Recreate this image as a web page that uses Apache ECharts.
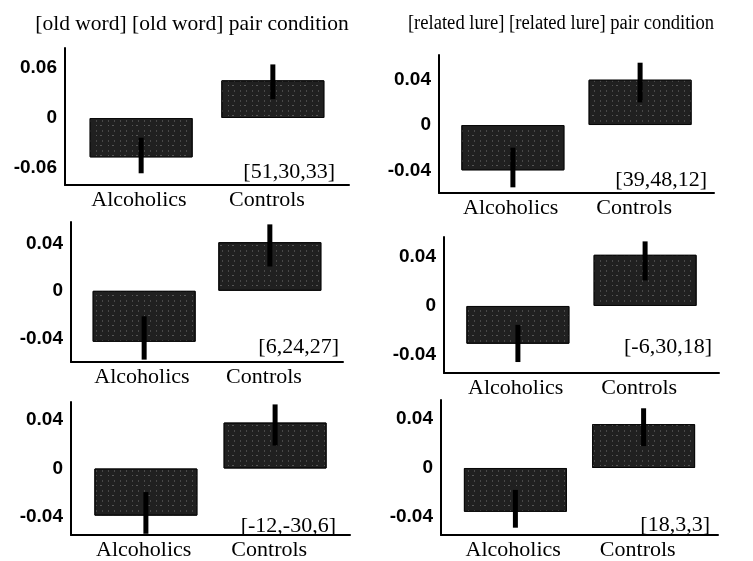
<!DOCTYPE html>
<html>
<head>
<meta charset="utf-8">
<script src="https://cdn.jsdelivr.net/npm/echarts@6/dist/echarts.min.js"></script>
<style>
    html, body { margin: 0; padding: 0; background: #fff; }
    #main { width: 753px; height: 561px; }
</style>
</head>
<body>
<div id="main"></div>
<script>
// panels go row by row: top-left, top-right, middle-left, middle-right, bottom-left, bottom-right
const categories = ['Alcoholics', 'Controls'];
const columnTitles = ['[old word] [old word] pair condition', '[related lure] [related lure] pair condition'];

const alcoholicsMean = [-0.047, -0.040, -0.043, -0.031, -0.039, -0.036];
const controlsMean = [0.045, 0.040, 0.041, 0.042, 0.038, 0.036];
// end of the one-sided error bar
const alcoholicsErr = [-0.066, -0.055, -0.058, -0.046, -0.054, -0.049];
const controlsErr = [0.064, 0.055, 0.056, 0.053, 0.053, 0.049];

// labelled y ticks are -step, 0, step
const tickStep = [0.06, 0.04, 0.04, 0.04, 0.04, 0.04];
const axisMin = [-0.08, -0.06, -0.06, -0.055, -0.055, -0.055];
const axisMax = [0.0836, 0.0618, 0.058, 0.0566, 0.055, 0.0558];

const notes = ['[51,30,33]', '[39,48,12]', '[6,24,27]', '[-6,30,18]', '[-12,-30,6]', '[18,3,3]'];

// layout of each small plot (px)
const layout = [
    {left: 65, top: 48, width: 284, height: 137, noteX: 335, noteY: 172},
    {left: 439, top: 55, width: 275, height: 138, noteX: 707, noteY: 180},
    {left: 71, top: 222, width: 272, height: 140, noteX: 339, noteY: 347},
    {left: 444, top: 237, width: 275, height: 136, noteX: 712, noteY: 347},
    {left: 71, top: 402, width: 279, height: 136, noteX: 336, noteY: 526},
    {left: 441, top: 400, width: 277, height: 137, noteX: 710, noteY: 525}
];
const titleStyle = [
    {x: 192, y: 24, size: 21.5, scaleX: 1},
    {x: 561, y: 24, size: 20, scaleX: 0.93}
];

const barWidth = 103;
const barGap = '-90%';   // pulls the two bars a little towards each other

const serif = '"Liberation Serif", "Times New Roman", serif';
const sans = '"Liberation Sans", Arial, sans-serif';

let myChart = echarts.init(document.getElementById('main'));

let grids = [], xAxes = [], yAxes = [], series = [], graphics = [];

let barStyle = {
    color: '#202020',
    borderColor: '#0a0a0a',
    borderWidth: 1,
    decal: {
        symbol: 'rect',
        symbolSize: 0.8,
        color: 'rgba(255,255,255,0.3)',
        dashArrayX: [[1, 5], [1, 3, 2, 6]],
        dashArrayY: [2, 3, 1, 4],
        rotation: 0
    }
};

let catFont = {color: '#000', fontFamily: serif, fontSize: 22};

layout.forEach((box, i) => {
    grids.push({left: box.left, top: box.top, width: box.width, height: box.height});

    xAxes.push({
        type: 'category',
        gridIndex: i,
        data: categories,
        axisLine: {onZero: false, lineStyle: {color: '#000', width: 2}},
        axisTick: {show: false},
        axisLabel: {
            margin: 4,
            // the printed labels sit a bit inwards of the band centres
            formatter: v => (v === categories[0] ? '{a|' : '{c|') + v + '}',
            rich: {
                a: Object.assign({padding: [0, 0, 0, 6]}, catFont),
                c: Object.assign({padding: [0, 22, 0, 0]}, catFont)
            }
        }
    });

    let step = tickStep[i];
    yAxes.push({
        type: 'value',
        gridIndex: i,
        min: axisMin[i],
        max: axisMax[i],
        interval: 0.005,
        splitLine: {show: false},
        axisTick: {show: false},
        axisLine: {show: true, lineStyle: {color: '#000', width: 2}},
        axisLabel: {
            color: '#000',
            fontFamily: sans,
            fontWeight: 'bold',
            fontSize: 19,
            margin: 8,
            padding: [4, 0, 0, 0],
            formatter: function (v) {
                if (Math.abs(v) < 1e-6) return '0';
                if (Math.abs(Math.abs(v) - step) < 1e-6) return (v < 0 ? '-' : '') + step;
                return '';
            }
        }
    });

    // Controls first so it takes the left slot of its band, Alcoholics the right slot
    series.push({
        name: 'Controls',
        type: 'bar',
        xAxisIndex: i,
        yAxisIndex: i,
        data: ['-', controlsMean[i]],
        barWidth: barWidth,
        barGap: barGap,
        itemStyle: barStyle
    });
    series.push({
        name: 'Alcoholics',
        type: 'bar',
        xAxisIndex: i,
        yAxisIndex: i,
        data: [alcoholicsMean[i], '-'],
        barWidth: barWidth,
        barGap: barGap,
        itemStyle: barStyle
    });

    // one-sided error bars, drawn from the middle of the bar outwards
    series.push({
        type: 'custom',
        xAxisIndex: i,
        yAxisIndex: i,
        data: [[0, alcoholicsMean[i], alcoholicsErr[i]], [1, controlsMean[i], controlsErr[i]]],
        encode: {x: 0, y: [1, 2]},
        renderItem: function (params, api) {
            let cat = api.value(0);
            let slots = api.barLayout({count: 2, barWidth: barWidth, barGap: barGap});
            let shift = slots[cat === 0 ? 1 : 0].offsetCenter;
            let from = api.coord([cat, api.value(1) * 0.5]);
            let to = api.coord([cat, api.value(2)]);
            return {
                type: 'line',
                shape: {x1: from[0] + shift, y1: from[1], x2: to[0] + shift, y2: to[1]},
                style: {stroke: '#000', lineWidth: 5}
            };
        },
        z: 3
    });

    graphics.push({
        type: 'text',
        x: box.noteX,
        y: box.noteY,
        style: {
            text: notes[i],
            font: '22px ' + serif,
            fill: '#000',
            align: 'right',
            verticalAlign: 'middle'
        }
    });
});

columnTitles.forEach((t, c) => {
    let ts = titleStyle[c];
    graphics.push({
        type: 'text',
        x: ts.x,
        y: ts.y,
        scaleX: ts.scaleX,
        style: {
            text: t,
            font: ts.size + 'px ' + serif,
            fill: '#000',
            align: 'center',
            verticalAlign: 'middle'
        }
    });
});

let option = {
    backgroundColor: '#fff',
    animation: false,
    grid: grids,
    xAxis: xAxes,
    yAxis: yAxes,
    series: series,
    graphic: graphics
};
myChart.setOption(option);
</script>
</body>
</html>
